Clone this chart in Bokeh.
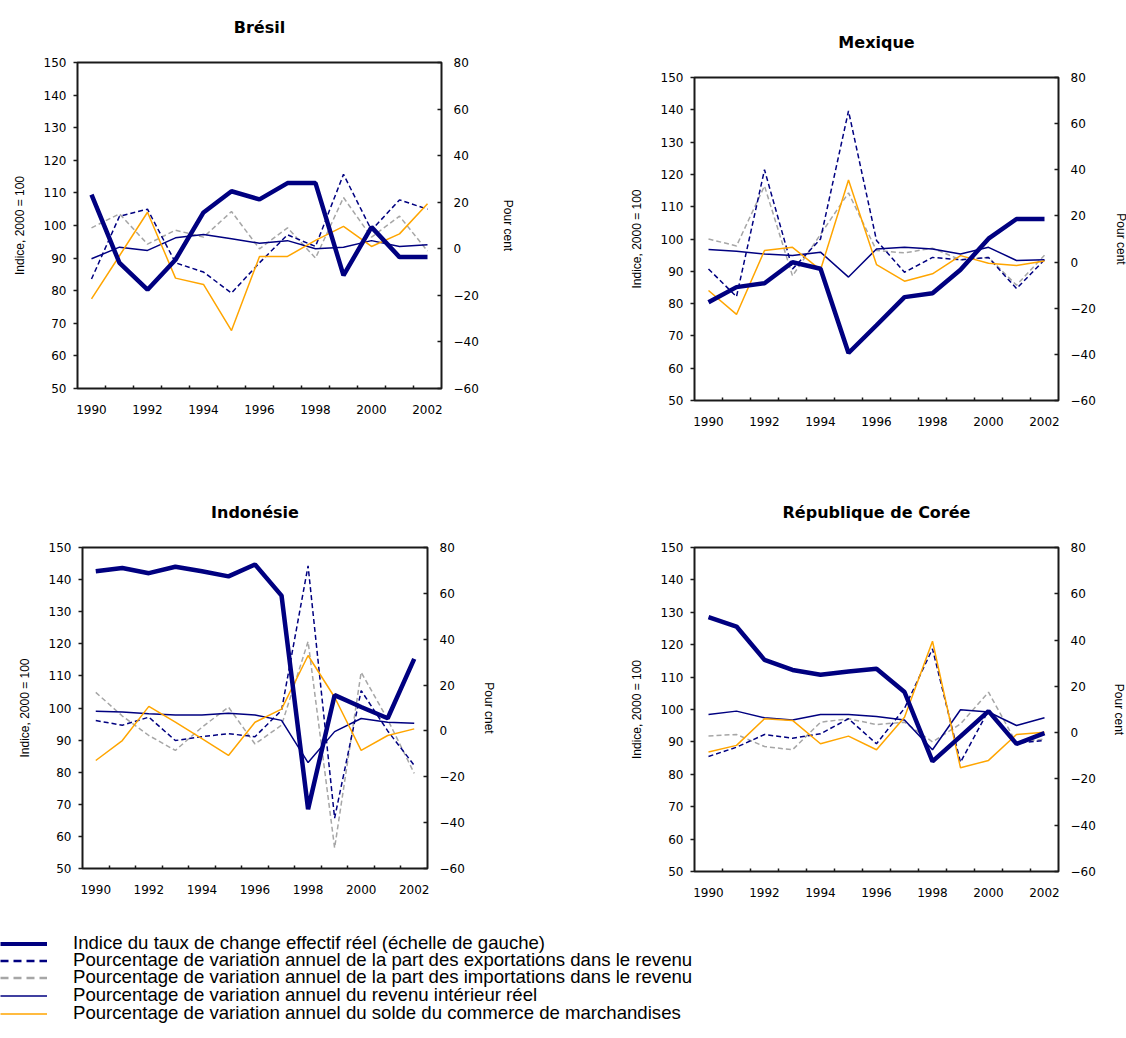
from bokeh.plotting import figure
from bokeh.layouts import column, row
from bokeh.models import Range1d, LinearAxis, FixedTicker, Legend, LegendItem, ColumnDataSource
from bokeh.embed import file_html
from bokeh.resources import INLINE

years = list(range(1990, 2003))
year_ticks = [1990, 1992, 1994, 1996, 1998, 2000, 2002]
left_ticks = [50, 60, 70, 80, 90, 100, 110, 120, 130, 140, 150]
right_ticks = [-60, -40, -20, 0, 20, 40, 60, 80]

# Brésil
bre_reer = [109.5, 88.5, 80.3, 89.5, 104.0, 110.5, 108.0, 113.0, 113.0, 84.7, 99.5, 90.3, 90.3]
bre_exports = [-13, 14, 17, -6, -10, -19, -6, 6, 1, 32, 8, 21, 17]
bre_imports = [9, 15, 2, 8, 5, 16, 0, 9, -4, 22, 5, 14, -1]
bre_income = [-4.3, 0.7, -0.7, 4.7, 6.1, 4.3, 2.4, 3.5, 0.0, 0.7, 3.5, 1.0, 1.7]
bre_trade = [-21.5, -3.0, 15.7, -12.6, -15.3, -35.1, -3.3, -3.3, 3.6, 9.6, 1.0, 6.4, 19.3]

# Mexique
mex_reer = [80.4, 85.1, 86.3, 92.8, 90.8, 64.7, 73.3, 82.0, 83.2, 90.5, 100.1, 106.2, 106.2]
mex_exports = [-3, -15, 40, -3, 10, 65.5, 9.4, -4.4, 2, 1, 2, -11.5, 1]
mex_imports = [10, 7, 33, -6, 12, 30, 5, 4, 6, 1, 2, -10, 3]
mex_income = [5.4, 4.7, 3.5, 2.8, 4.3, -6.5, 5.7, 6.4, 5.7, 3.5, 6.4, 0.7, 1.0]
mex_trade = [-12.3, -22.7, 5.0, 6.4, -3.4, 35.6, -1.1, -8.3, -5.1, 2.8, -0.5, -1.5, 0.5]

# Indonésie
ind_reer = [142.6, 143.6, 142.0, 144.0, 142.6, 141.0, 144.7, 135.0, 68.5, 104.0, 100.3, 96.8, 115.3]
ind_exports = [4.5, 2.5, 6, -4.2, -2.5, -1.2, -2.5, 9, 72, -38, 17.6, 0, -15]
ind_imports = [16.8, 6.5, -2, -8.5, 1.6, 10.4, -5.7, 2.5, 39, -51, 25.6, 5, -18.5]
ind_income = [8.6, 8.3, 7.5, 7.0, 7.0, 7.7, 6.9, 4.6, -13.8, -0.3, 5.4, 3.8, 3.4]
ind_trade = [-12.9, -4.2, 10.7, 3.8, -3.4, -10.7, 3.8, 9.5, 32.9, 14.7, -8.5, -2.0, 0.9]

# République de Corée
kor_reer = [128.5, 125.6, 115.3, 112.2, 110.7, 111.7, 112.6, 105.4, 84.0, 91.7, 99.5, 89.4, 92.7]
kor_exports = [-10.3, -6.3, -0.8, -2.4, -0.5, 6, -4.8, 10.5, 36.2, -12.8, 9.6, -4.5, -3.4]
kor_imports = [-1.4, -0.8, -6, -7.4, 4.5, 6, 3.5, 4.5, -4, 3.8, 17.5, -4.5, -2.7]
kor_income = [7.8, 9.3, 6.4, 5.5, 7.8, 7.8, 7.0, 5.5, -7.4, 9.9, 8.9, 3.1, 6.4]
kor_trade = [-8.4, -5.5, 6.0, 5.3, -4.8, -1.5, -7.4, 6.7, 39.5, -15.2, -12.0, -0.8, 0.2]

legend_labels = [
    "Indice du taux de change effectif réel (échelle de gauche)",
    "Pourcentage de variation annuel de la part des exportations dans le revenu",
    "Pourcentage de variation annuel de la part des importations dans le revenu",
    "Pourcentage de variation annuel du revenu intérieur réel",
    "Pourcentage de variation annuel du solde du commerce de marchandises",
]

NAVY = "#000080"
GRAY = "#A6A6A6"
ORANGE = "#FFA500"
TICK_FONT = "DejaVu Sans"
LABEL_FONT = "Liberation Sans"


def make_panel(title, right_label, reer, exports, imports, income, trade,
               fw, fh, bl, br, bt, bb, rstand=14):
    p = figure(frame_width=fw, frame_height=fh,
               min_border_left=bl, min_border_right=br,
               min_border_top=bt, min_border_bottom=bb,
               x_range=Range1d(1989.5, 2002.5), y_range=Range1d(50, 150),
               title=None, toolbar_location=None, output_backend="svg",
               background_fill_color="white", border_fill_color="white",
               outline_line_color="#1a1a1a", outline_line_width=2)
    p.extra_y_ranges = {"pct": Range1d(-60, 80)}
    p.grid.visible = False

    xa = p.below[0]
    ya = p.left[0]

    # title drawn as the label of an empty axis above the frame
    ta = LinearAxis(ticker=FixedTicker(ticks=[]), axis_label=title)
    ta.axis_line_color = None
    ta.major_tick_line_color = None
    ta.minor_tick_line_color = None
    ta.major_tick_in = 0
    ta.major_tick_out = 0
    ta.minor_tick_in = 0
    ta.minor_tick_out = 0
    ta.major_label_standoff = 0
    ta.major_label_text_font_size = "1px"
    ta.axis_label_standoff = 26
    ta.axis_label_text_font = TICK_FONT
    ta.axis_label_text_font_style = "bold"
    ta.axis_label_text_font_size = "16px"
    ta.axis_label_text_color = "#000000"
    p.add_layout(ta, "above")

    xa.ticker = FixedTicker(ticks=year_ticks, minor_ticks=[y + 0.5 for y in years[:-1]])
    xa.axis_line_color = None
    xa.major_tick_line_color = None
    xa.major_tick_out = 0
    xa.major_tick_in = 0
    xa.minor_tick_in = 3
    xa.minor_tick_out = 0
    xa.minor_tick_line_color = "#1a1a1a"
    xa.minor_tick_line_width = 1.5
    xa.major_label_standoff = 16
    xa.major_label_text_font = TICK_FONT
    xa.major_label_text_font_size = "12px"
    xa.major_label_text_color = "#000000"

    ya.ticker = FixedTicker(ticks=left_ticks)
    ya.axis_line_color = None
    ya.major_tick_in = 0
    ya.major_tick_out = 4
    ya.major_tick_line_color = "#1a1a1a"
    ya.major_tick_line_width = 1.5
    ya.minor_tick_line_color = None
    ya.major_label_standoff = 7
    ya.major_label_text_font = TICK_FONT
    ya.major_label_text_font_size = "12px"
    ya.major_label_text_color = "#000000"
    ya.axis_label = "Indice, 2000 = 100"
    ya.axis_label_text_font = LABEL_FONT
    ya.axis_label_text_font_size = "12px"
    ya.axis_label_text_font_style = "normal"
    ya.axis_label_text_color = "#000000"
    ya.axis_label_standoff = 14

    ra = LinearAxis(y_range_name="pct", ticker=FixedTicker(ticks=right_ticks))
    ra.axis_line_color = None
    ra.major_tick_in = 4
    ra.major_tick_out = 0
    ra.major_tick_line_color = "#1a1a1a"
    ra.major_tick_line_width = 1.5
    ra.minor_tick_line_color = None
    ra.major_label_standoff = 12
    ra.major_label_text_font = TICK_FONT
    ra.major_label_text_font_size = "12px"
    ra.major_label_text_color = "#000000"
    ra.axis_label = right_label
    ra.axis_label_text_font = LABEL_FONT
    ra.axis_label_text_font_size = "12px"
    ra.axis_label_text_font_style = "normal"
    ra.axis_label_text_color = "#000000"
    ra.axis_label_standoff = rstand
    p.add_layout(ra, "right")

    src = ColumnDataSource(dict(year=years, reer=reer, exports=exports,
                                imports=imports, income=income, trade=trade))
    p.line("year", "imports", source=src, y_range_name="pct",
           line_color=GRAY, line_width=1.5, line_dash="5 3")
    p.line("year", "exports", source=src, y_range_name="pct",
           line_color=NAVY, line_width=1.5, line_dash="5 3")
    p.line("year", "income", source=src, y_range_name="pct",
           line_color=NAVY, line_width=1.5)
    p.line("year", "trade", source=src, y_range_name="pct",
           line_color=ORANGE, line_width=1.5)
    p.line("year", "reer", source=src, line_color=NAVY, line_width=4.5)
    return p, src


p1, src1 = make_panel("Brésil", "Pour cent", bre_reer, bre_exports, bre_imports, bre_income, bre_trade,
                      364, 326, 77, 119, 62, 82, rstand=19)
p2, _ = make_panel("Mexique", "Pour cent", mex_reer, mex_exports, mex_imports, mex_income, mex_trade,
                   364, 323, 134, 68, 77, 70, rstand=15)
p3, _ = make_panel("Indonésie", "Pour cnet", ind_reer, ind_exports, ind_imports, ind_income, ind_trade,
                   345, 321, 82, 133, 77, 62, rstand=14)
p4, _ = make_panel("République de Corée", "Pour cent", kor_reer, kor_exports, kor_imports, kor_income, kor_trade,
                   364, 324, 134, 68, 77, 59, rstand=13)

# Legend panel: its renderers reuse the Brésil series, which lie outside this
# panel's visible ranges, so only the legend samples show.
LG_H = 104
lg = figure(width=1126, height=LG_H, x_range=Range1d(0, 1), y_range=Range1d(0, 1),
            x_axis_type=None, y_axis_type=None, toolbar_location=None, title=None,
            output_backend="svg", min_border=0, outline_line_color=None)
lg.grid.visible = False
series = ["reer", "exports", "imports", "income", "trade"]
styles = [
    dict(line_color=NAVY, line_width=4),
    dict(line_color=NAVY, line_width=2.5, line_dash="8 5"),
    dict(line_color=GRAY, line_width=2.5, line_dash="8 5"),
    dict(line_color=NAVY, line_width=1.5),
    dict(line_color=ORANGE, line_width=1.5),
]
ROW_H = 21
for i, (lab, col, st) in enumerate(zip(legend_labels, series, styles)):
    r = lg.line("year", col, source=src1, **st)
    centre_from_top = 13 + 17.5 * i
    bottom = int(round(LG_H - centre_from_top - ROW_H / 2))
    leg = Legend(items=[LegendItem(label=lab, renderers=[r])], location=(0, bottom),
                 orientation="vertical",
                 glyph_width=47, glyph_height=ROW_H, label_height=ROW_H, spacing=0,
                 label_standoff=26, padding=0, margin=0,
                 border_line_color=None, background_fill_alpha=0,
                 label_text_font="Liberation Sans", label_text_font_size="18.6px",
                 label_text_color="#000000")
    lg.add_layout(leg, "center")

layout = column(row(column(p1), column(p2)), row(column(p3), column(p4)), lg)

open("out.html", "w", encoding="utf-8").write(file_html(layout, INLINE))
